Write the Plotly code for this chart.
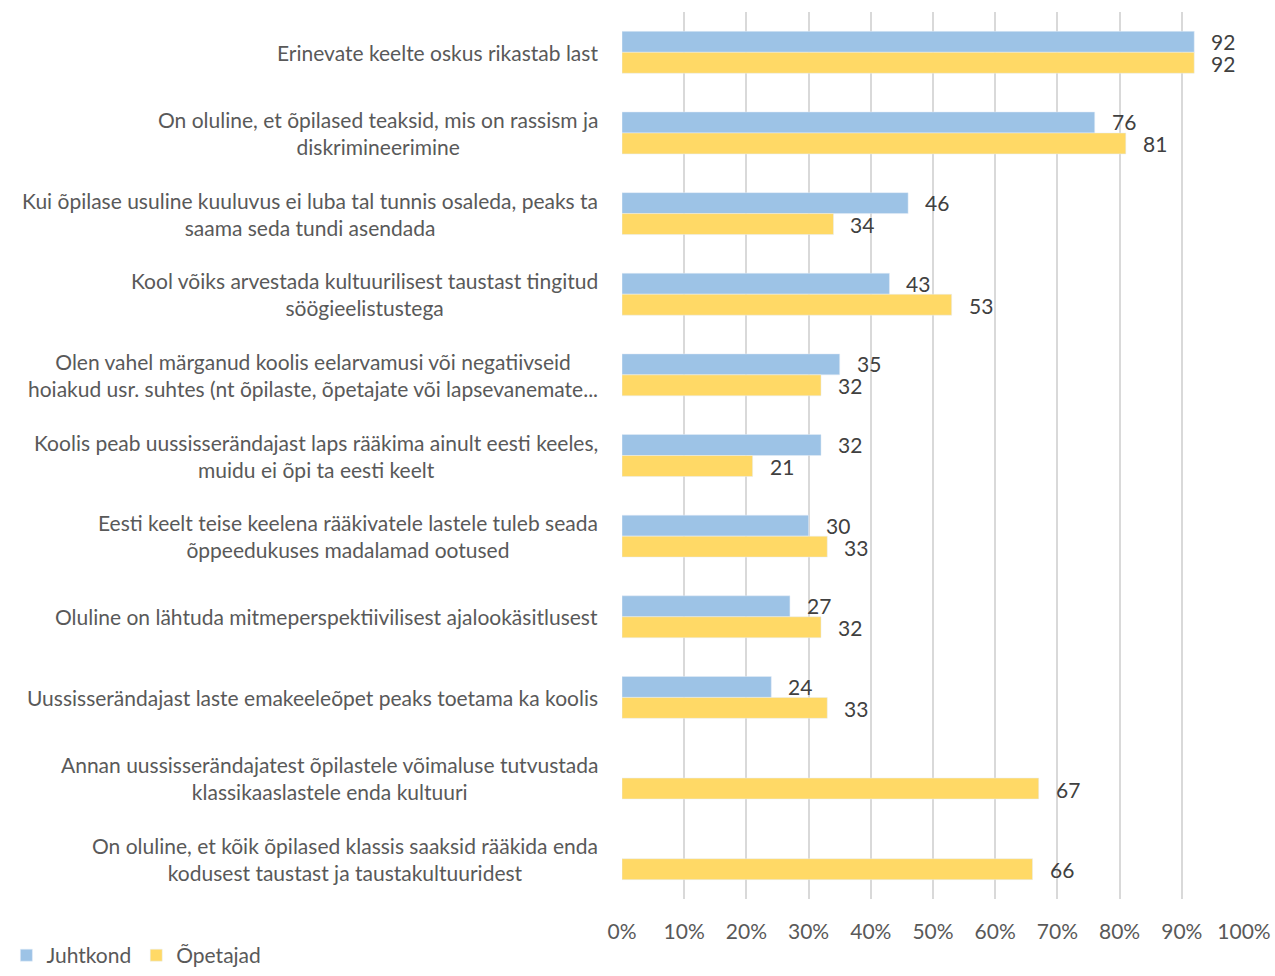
import plotly.graph_objects as go

# Survey statements (lines separated by <br>)
categories = [
    "Erinevate keelte oskus rikastab last",
    "On oluline, et õpilased teaksid, mis on rassism ja<br>diskrimineerimine",
    "Kui õpilase usuline kuuluvus ei luba tal tunnis osaleda, peaks ta<br>saama seda tundi asendada",
    "Kool võiks arvestada kultuurilisest taustast tingitud<br>söögieelistustega",
    "Olen vahel märganud koolis eelarvamusi või negatiivseid<br>hoiakud usr. suhtes (nt õpilaste, õpetajate või lapsevanemate...",
    "Koolis peab uussisserändajast laps rääkima ainult eesti keeles,<br>muidu ei õpi ta eesti keelt",
    "Eesti keelt teise keelena rääkivatele lastele tuleb seada<br>õppeedukuses madalamad ootused",
    "Oluline on lähtuda mitmeperspektiivilisest ajalookäsitlusest",
    "Uussisserändajast laste emakeeleõpet peaks toetama ka koolis",
    "Annan uussisserändajatest õpilastele võimaluse tutvustada<br>klassikaaslastele enda kultuuri",
    "On oluline, et kõik õpilased klassis saaksid rääkida enda<br>kodusest taustast ja taustakultuuridest",
]

juhtkond = [92, 76, 46, 43, 35, 32, 30, 27, 24, None, None]
opetajad = [92, 81, 34, 53, 32, 21, 33, 32, 33, 67, 66]

x_ticks = [0, 10, 20, 30, 40, 50, 60, 70, 80, 90, 100]
x_tick_labels = [f"{t}%" for t in x_ticks]

FONT = "Lato"
TEXT_GREY = "#595959"
VALUE_GREY = "#404040"
BLUE = "#9DC3E6"
YELLOW = "#FFD966"

fig = go.Figure()
fig.add_trace(go.Bar(
    y=categories, x=juhtkond, name="Juhtkond", orientation="h",
    marker=dict(color=BLUE),
))
fig.add_trace(go.Bar(
    y=categories, x=opetajad, name="Õpetajad", orientation="h",
    marker=dict(color=YELLOW),
))

annotations = []
# Value labels next to each bar end
for vals, shift in ((juhtkond, 11), (opetajad, -11)):
    for cat, v in zip(categories, vals):
        if v is None:
            continue
        annotations.append(dict(
            x=v, y=cat, xref="x", yref="y", text=str(v), showarrow=False,
            xanchor="left", yanchor="middle", xshift=15, yshift=shift,
            font=dict(family=FONT, size=21, color=VALUE_GREY),
        ))

# Category labels: block right-aligned to the axis, lines centred within it
for cat in categories:
    annotations.append(dict(
        x=0, y=cat, xref="paper", yref="y", text=cat, showarrow=False,
        xanchor="right", yanchor="middle", align="center", xshift=-22,
        font=dict(family=FONT, size=21, color=TEXT_GREY),
    ))

fig.update_layout(
    width=1275, height=976,
    margin=dict(l=622, r=31, t=12, b=77, autoexpand=False),
    paper_bgcolor="white", plot_bgcolor="white",
    barmode="group", bargap=0.48, bargroupgap=0,
    font=dict(family=FONT, color=TEXT_GREY, size=20),
    annotations=annotations,
    showlegend=True,
    legend=dict(
        orientation="h", xref="container", yref="container",
        x=0.005, y=-0.022, xanchor="left", yanchor="bottom",
        font=dict(family=FONT, size=21, color=TEXT_GREY),
        itemwidth=30, traceorder="normal",
    ),
)
fig.update_xaxes(
    range=[0, 100], tickvals=x_ticks, ticktext=x_tick_labels,
    showgrid=True, gridcolor="#D9D9D9", gridwidth=2,
    zeroline=False, showline=False,
    ticks="outside", ticklen=14, tickcolor="rgba(0,0,0,0)",
    tickfont=dict(family=FONT, size=21, color=TEXT_GREY),
)
fig.update_yaxes(
    autorange="reversed", showticklabels=False, showgrid=False,
    zeroline=False, showline=False,
)

fig.write_html("out.html")
